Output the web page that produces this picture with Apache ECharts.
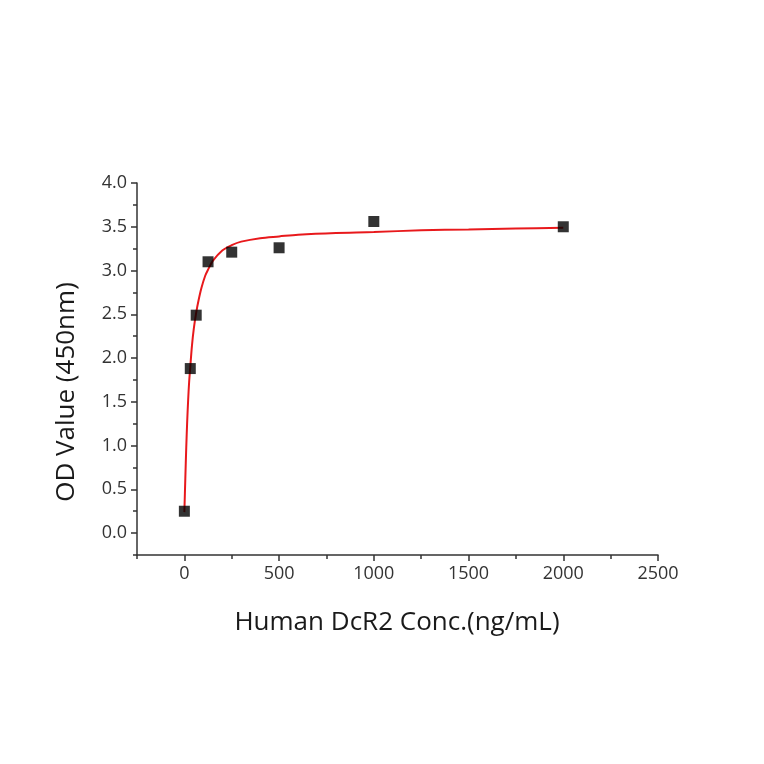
<!DOCTYPE html>
<html>
<head>
<meta charset="utf-8">
<script src="https://cdn.jsdelivr.net/npm/echarts@6/dist/echarts.min.js"></script>
<style>html,body{margin:0;padding:0;background:#fff;}#c{width:764px;height:764px;}</style>
</head>
<body>
<div id="c"></div>
<script>
// Measured points (concentration ng/mL, OD 450nm)
const pointX = [0, 31.25, 62.5, 125, 250, 500, 1000, 2000];
const pointY = [0.25, 1.88, 2.49, 3.10, 3.21, 3.26, 3.56, 3.50];
// Fitted curve
const curveX = [0, 5, 10, 15, 20, 25, 31.25, 40, 50, 62.5, 75, 90, 110, 125, 150, 200, 250, 300, 400, 500, 600, 800, 1000, 1250, 1500, 1750, 2000];
const curveY = [0.24, 0.62, 0.98, 1.28, 1.52, 1.72, 1.90, 2.14, 2.34, 2.52, 2.66, 2.80, 2.94, 3.01, 3.11, 3.23, 3.29, 3.33, 3.37, 3.39, 3.41, 3.43, 3.44, 3.46, 3.47, 3.48, 3.49];
// Axis ticks
const xMajor = [0, 500, 1000, 1500, 2000, 2500];
const xMinor = [-250, 250, 750, 1250, 1750, 2250];
const yMajor = [0, 0.5, 1.0, 1.5, 2.0, 2.5, 3.0, 3.5, 4.0];
const yMinor = [-0.25, 0.25, 0.75, 1.25, 1.75, 2.25, 2.75, 3.25, 3.75];
const xTitle = 'Human DcR2 Conc.(ng/mL)';
const yTitle = 'OD Value (450nm)';

const FONT = 'Open Sans';
const axisCol = '#333';
const ls = () => ({color: axisCol, width: 1.5});
const chart = echarts.init(document.getElementById('c'));

function tickAxis(min, max, pos, vals, len) {
  return {
    type: 'value', min, max, position: pos,
    axisLine: {show: false, onZero: false},
    axisTick: {show: true, inside: false, length: len, customValues: vals, lineStyle: ls()},
    axisLabel: {show: false},
    splitLine: {show: false}
  };
}

chart.setOption({
  animation: false,
  backgroundColor: '#fff',
  grid: {left: 137, right: 106, top: 183, bottom: 209, containLabel: false},
  xAxis: [{
    type: 'value', min: -250, max: 2500, position: 'bottom',
    axisLine: {show: true, onZero: false, lineStyle: ls()},
    axisTick: {show: false},
    axisLabel: {show: true, customValues: xMajor, color: '#333', fontFamily: FONT, fontSize: 18, margin: 10,
      formatter: v => String(v)},
    splitLine: {show: false}
  },
    tickAxis(-250, 2500, 'bottom', xMinor, 4),
    tickAxis(-250, 2500, 'bottom', xMajor, 6)
  ],
  yAxis: [{
    type: 'value', min: -0.25, max: 4.0, position: 'left',
    axisLine: {show: true, onZero: false, lineStyle: ls()},
    axisTick: {show: false},
    axisLabel: {show: true, customValues: yMajor, color: '#333', fontFamily: FONT, fontSize: 18, margin: 10,
      formatter: v => v.toFixed(1)},
    splitLine: {show: false}
  },
    tickAxis(-0.25, 4.0, 'left', yMinor, 4),
    tickAxis(-0.25, 4.0, 'left', yMajor, 6)
  ],
  graphic: [
    {type: 'text', x: 397, y: 610, style: {text: xTitle, fontFamily: FONT, fontSize: 26, fill: '#1a1a1a', align: 'center', verticalAlign: 'top'}},
    {type: 'text', x: 54, y: 392, rotation: Math.PI / 2,
      style: {text: yTitle, fontFamily: FONT, fontSize: 26, fill: '#1a1a1a', align: 'center', verticalAlign: 'top'}}
  ],
  series: [{
    type: 'line', xAxisIndex: 0, yAxisIndex: 0,
    data: curveX.map((x, i) => [x, curveY[i]]),
    showSymbol: false, smooth: 0.3,
    lineStyle: {color: '#e8191c', width: 2},
    z: 2
  }, {
    type: 'scatter', xAxisIndex: 0, yAxisIndex: 0,
    data: pointX.map((x, i) => [x, pointY[i]]),
    symbol: 'rect', symbolSize: 11,
    itemStyle: {color: '#000'},
    z: 3
  }]
});
</script>
</body>
</html>
